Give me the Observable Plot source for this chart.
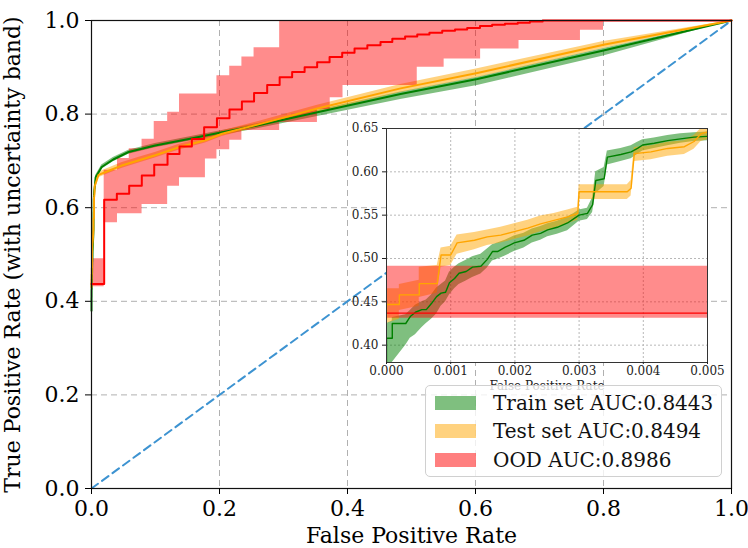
<!DOCTYPE html>
<html><head><meta charset="utf-8">
<script src="https://cdn.jsdelivr.net/npm/d3@7"></script>
<script src="https://cdn.jsdelivr.net/npm/@observablehq/plot@0.6"></script>
<style>
body{margin:0;background:white;}
#wrap{position:relative;width:748px;height:548px;font-family:"DejaVu Serif",serif;}
#inset{position:absolute;left:341px;top:123px;}
#legend{position:absolute;left:425px;top:385px;width:297px;height:92px;box-sizing:border-box;border:1px solid #d0d0d0;border-radius:5px;background:rgba(255,255,255,0.8);}
.item{position:absolute;left:9px;height:24px;display:flex;align-items:center;font-size:20px;color:#111;white-space:nowrap;}
.sw{width:41px;height:14px;margin-right:17px;}
</style></head>
<body>
<div id="wrap"><div id="main"></div><div id="inset"></div><div id="legend"></div></div>
<script>
// ---- data (x = FPR, y = TPR, lo/hi = uncertainty band) ----
const legendLabels = ["Train set AUC:0.8443", "Test set AUC:0.8494", "OOD AUC:0.8986"];
const seriesColors = ["#008000", "#ffa500", "#ff0000"];

// Train set: [x, y, lo, hi]
const trainRows = [
  [0, 0.380, 0.360, 0.425], [0, 0.408, 0.360, 0.425], [0.00009, 0.408, 0.370, 0.428],
  [0.00009, 0.425, 0.380, 0.432], [0.0003, 0.425, 0.400, 0.435], [0.00037, 0.433, 0.408, 0.440],
  [0.00045, 0.438, 0.412, 0.446], [0.00055, 0.441, 0.420, 0.450], [0.00062, 0.441, 0.425, 0.452],
  [0.0007, 0.448, 0.430, 0.458], [0.00078, 0.456, 0.436, 0.466], [0.00085, 0.460, 0.445, 0.470],
  [0.00092, 0.461, 0.450, 0.474], [0.00098, 0.472, 0.458, 0.484], [0.00106, 0.477, 0.465, 0.490],
  [0.00113, 0.483, 0.470, 0.494], [0.00124, 0.485, 0.474, 0.498], [0.00134, 0.490, 0.478, 0.502],
  [0.00147, 0.491, 0.482, 0.505], [0.00157, 0.499, 0.489, 0.511], [0.00165, 0.508, 0.497, 0.516],
  [0.00173, 0.508, 0.499, 0.518], [0.00185, 0.513, 0.503, 0.521], [0.00199, 0.518, 0.508, 0.526],
  [0.00214, 0.521, 0.512, 0.529], [0.00227, 0.527, 0.518, 0.534], [0.0024, 0.529, 0.521, 0.537],
  [0.00251, 0.533, 0.525, 0.540], [0.00266, 0.536, 0.528, 0.543], [0.00282, 0.541, 0.532, 0.548],
  [0.00292, 0.546, 0.538, 0.552], [0.003, 0.550, 0.543, 0.556], [0.00313, 0.552, 0.545, 0.558],
  [0.00321, 0.562, 0.553, 0.570], [0.00326, 0.590, 0.575, 0.600], [0.00339, 0.592, 0.583, 0.605],
  [0.00344, 0.617, 0.608, 0.624], [0.00365, 0.620, 0.612, 0.627], [0.00381, 0.623, 0.615, 0.630],
  [0.00391, 0.627, 0.620, 0.634], [0.00399, 0.631, 0.624, 0.637], [0.00417, 0.633, 0.627, 0.639],
  [0.00438, 0.636, 0.630, 0.642], [0.00458, 0.638, 0.633, 0.644], [0.00479, 0.640, 0.635, 0.645],
  [0.005, 0.641, 0.636, 0.646], [0.0065, 0.665, 0.660, 0.669], [0.016, 0.687, 0.682, 0.691],
  [0.034, 0.703, 0.698, 0.707], [0.058, 0.719, 0.714, 0.723], [0.0995, 0.733, 0.728, 0.737],
  [0.152, 0.747, 0.742, 0.751], [0.204, 0.761, 0.755, 0.765], [0.261, 0.776, 0.769, 0.780],
  [0.353, 0.804, 0.795, 0.808], [0.483, 0.843, 0.831, 0.847], [0.603, 0.875, 0.861, 0.879],
  [0.80, 0.936, 0.924, 0.940], [1.0, 1.0, 1.0, 1.0]
];

// Test set: [x, y, lo, hi]
const testRows = [
  [0, 0.430, 0.425, 0.465], [0, 0.447, 0.425, 0.465], [0.0002, 0.447, 0.430, 0.465],
  [0.0002, 0.458, 0.440, 0.470], [0.00051, 0.458, 0.445, 0.475], [0.00051, 0.471, 0.455, 0.490],
  [0.00079, 0.471, 0.460, 0.492], [0.00085, 0.504, 0.490, 0.512], [0.001, 0.504, 0.492, 0.514],
  [0.0011, 0.518, 0.505, 0.527], [0.00137, 0.521, 0.510, 0.530], [0.00157, 0.525, 0.515, 0.533],
  [0.00178, 0.527, 0.518, 0.536], [0.00199, 0.531, 0.522, 0.540], [0.0022, 0.535, 0.526, 0.544],
  [0.0024, 0.540, 0.531, 0.549], [0.00261, 0.544, 0.535, 0.552], [0.00282, 0.548, 0.540, 0.556],
  [0.00298, 0.552, 0.544, 0.559], [0.003, 0.577, 0.568, 0.585], [0.00375, 0.577, 0.568, 0.585],
  [0.00381, 0.581, 0.572, 0.590], [0.00386, 0.621, 0.612, 0.628], [0.00412, 0.623, 0.614, 0.630],
  [0.00438, 0.627, 0.618, 0.634], [0.00464, 0.629, 0.620, 0.636], [0.00479, 0.635, 0.626, 0.642],
  [0.0049, 0.644, 0.635, 0.650], [0.005, 0.646, 0.637, 0.652], [0.011, 0.670, 0.664, 0.676],
  [0.027, 0.679, 0.673, 0.685], [0.047, 0.690, 0.684, 0.696], [0.073, 0.701, 0.695, 0.707],
  [0.0995, 0.712, 0.706, 0.718], [0.136, 0.729, 0.723, 0.735], [0.178, 0.744, 0.738, 0.750],
  [0.204, 0.758, 0.752, 0.764], [0.261, 0.778, 0.772, 0.784], [0.353, 0.812, 0.804, 0.819],
  [0.483, 0.855, 0.846, 0.863], [0.603, 0.888, 0.878, 0.897], [0.80, 0.948, 0.940, 0.955],
  [1.0, 1.0, 1.0, 1.0]
];

// OOD step curve
const oodX = [0, 0.0198, 0.0396, 0.0589, 0.0786, 0.098, 0.1188, 0.1375, 0.1568, 0.176, 0.196,
  0.2156, 0.235, 0.254, 0.2745, 0.294, 0.3135, 0.333, 0.3526, 0.372, 0.3917, 0.411, 0.431,
  0.4516, 0.470, 0.490, 0.509, 0.528, 0.548, 0.568, 0.587, 0.607, 0.626, 0.646, 0.666, 0.685,
  0.705, 1.0];
const oodY = [0.437, 0.617, 0.630, 0.647, 0.669, 0.692, 0.715, 0.731, 0.747, 0.772, 0.791,
  0.810, 0.827, 0.845, 0.862, 0.879, 0.890, 0.900, 0.911, 0.922, 0.931, 0.940, 0.947,
  0.954, 0.961, 0.966, 0.970, 0.974, 0.978, 0.981, 0.984, 0.988, 0.991, 0.993, 0.995, 0.998,
  1.0, 1.0];
// OOD band (step): [x, lo, hi]
const oodBandRows = [
  [0, 0.431, 0.491], [0.0198, 0.568, 0.680], [0.0406, 0.587, 0.705], [0.059, 0.587, 0.726],
  [0.079, 0.607, 0.746], [0.098, 0.607, 0.784], [0.119, 0.646, 0.804], [0.1375, 0.664, 0.843],
  [0.178, 0.704, 0.843], [0.196, 0.724, 0.882], [0.216, 0.744, 0.902], [0.235, 0.765, 0.922],
  [0.254, 0.765, 0.942], [0.294, 0.782, 1.0], [0.353, 0.810, 1.0], [0.373, 0.835, 1.0],
  [0.393, 0.861, 1.0], [0.509, 0.900, 1.0], [0.551, 0.918, 1.0], [0.608, 0.939, 1.0],
  [0.668, 0.957, 1.0], [0.764, 0.979, 1.0], [0.80, 0.979, 1.0]
];

const diagX = [0, 1];
const diagY = [0, 1];

const mainTicks = [0, 0.2, 0.4, 0.6, 0.8, 1.0];
const insetXTicks = [0, 0.001, 0.002, 0.003, 0.004, 0.005];
const insetYTicks = [0.40, 0.45, 0.50, 0.55, 0.60, 0.65];

// ---- build ----
const train = trainRows.map(([x, y, lo, hi]) => ({x, y, lo, hi}));
const test = testRows.map(([x, y, lo, hi]) => ({x, y, lo, hi}));
const ood = oodX.map((x, i) => ({x, y: oodY[i]}));
const oodBand = oodBandRows.map(([x, lo, hi]) => ({x, lo, hi}));
const diag = diagX.map((x, i) => ({x, y: diagY[i]}));

function seriesMarks(lw, clip) {
  return [
    Plot.areaY(train, {x: "x", y1: "lo", y2: "hi", fill: seriesColors[0], fillOpacity: 0.5, clip}),
    Plot.areaY(test, {x: "x", y1: "lo", y2: "hi", fill: seriesColors[1], fillOpacity: 0.5, clip}),
    Plot.areaY(oodBand, {x: "x", y1: "lo", y2: "hi", curve: "step-after", fill: seriesColors[2], fillOpacity: 0.45, clip}),
    Plot.line(train, {x: "x", y: "y", stroke: seriesColors[0], strokeWidth: lw, clip}),
    Plot.line(test, {x: "x", y: "y", stroke: seriesColors[1], strokeWidth: lw, clip}),
    Plot.line(ood, {x: "x", y: "y", curve: "step-after", stroke: seriesColors[2], strokeWidth: lw, clip})
  ];
}

const main = Plot.plot({
  width: 748, height: 548,
  marginLeft: 91, marginRight: 17, marginTop: 20, marginBottom: 60,
  x: {domain: [0, 1]},
  y: {domain: [0, 1]},
  style: {fontFamily: "DejaVu Serif", background: "white", color: "black", overflow: "visible"},
  marks: [
    Plot.gridX(mainTicks, {stroke: "#b0b0b0", strokeOpacity: 1, strokeDasharray: "6,4"}),
    Plot.gridY(mainTicks, {stroke: "#b0b0b0", strokeOpacity: 1, strokeDasharray: "6,4"}),
    ...seriesMarks(2, false),
    Plot.line(diag, {x: "x", y: "y", stroke: "#3d93d1", strokeWidth: 2, strokeDasharray: "8,5"}),
    Plot.frame({stroke: "#111", strokeWidth: 1.2}),
    Plot.axisX({ticks: mainTicks, tickFormat: d => d.toFixed(1), fontSize: 22, tickSize: 6, tickPadding: 6,
      label: "False Positive Rate", labelAnchor: "center", labelOffset: 54, labelArrow: "none"}),
    Plot.axisY({ticks: mainTicks, tickFormat: d => d.toFixed(1), fontSize: 22, tickSize: 6, tickPadding: 6,
      label: "True Positive Rate (with uncertainty band)", labelAnchor: "center", labelOffset: 87, labelArrow: "none"})
  ]
});
document.getElementById("main").appendChild(main);

const inset = Plot.plot({
  width: 371, height: 279,
  marginLeft: 45, marginRight: 5, marginTop: 5, marginBottom: 40,
  x: {domain: [0, 0.005]},
  y: {domain: [0.38, 0.65]},
  style: {fontFamily: "DejaVu Serif", background: "transparent", color: "#222", overflow: "visible"},
  marks: [
    Plot.frame({fill: "white", stroke: "none"}),
    Plot.gridX(insetXTicks, {stroke: "#b8b8b8", strokeOpacity: 1, strokeDasharray: "2,2"}),
    Plot.gridY(insetYTicks, {stroke: "#b8b8b8", strokeOpacity: 1, strokeDasharray: "2,2"}),
    ...seriesMarks(1.4, true),
    Plot.frame({stroke: "#333", strokeWidth: 1}),
    Plot.axisX({ticks: insetXTicks, tickFormat: d => d.toFixed(3), fontSize: 12, tickSize: 2, tickPadding: 2,
      label: "False Positive Rate", labelAnchor: "center", labelOffset: 27, labelArrow: "none"}),
    Plot.axisY({ticks: insetYTicks, tickFormat: d => d.toFixed(2), fontSize: 12, tickSize: 4, tickPadding: 4, label: null})
  ]
});
document.getElementById("inset").appendChild(inset);

// legend
const legend = document.getElementById("legend");
const centers = [16.7, 45, 74];
legendLabels.forEach((lab, i) => {
  const it = document.createElement("div");
  it.className = "item";
  it.style.top = (centers[i] - 12) + "px";
  const sw = document.createElement("div");
  sw.className = "sw";
  sw.style.background = seriesColors[i];
  sw.style.opacity = 0.5;
  const tx = document.createElement("span");
  tx.textContent = lab;
  it.appendChild(sw); it.appendChild(tx);
  legend.appendChild(it);
});
</script>
</body></html>
